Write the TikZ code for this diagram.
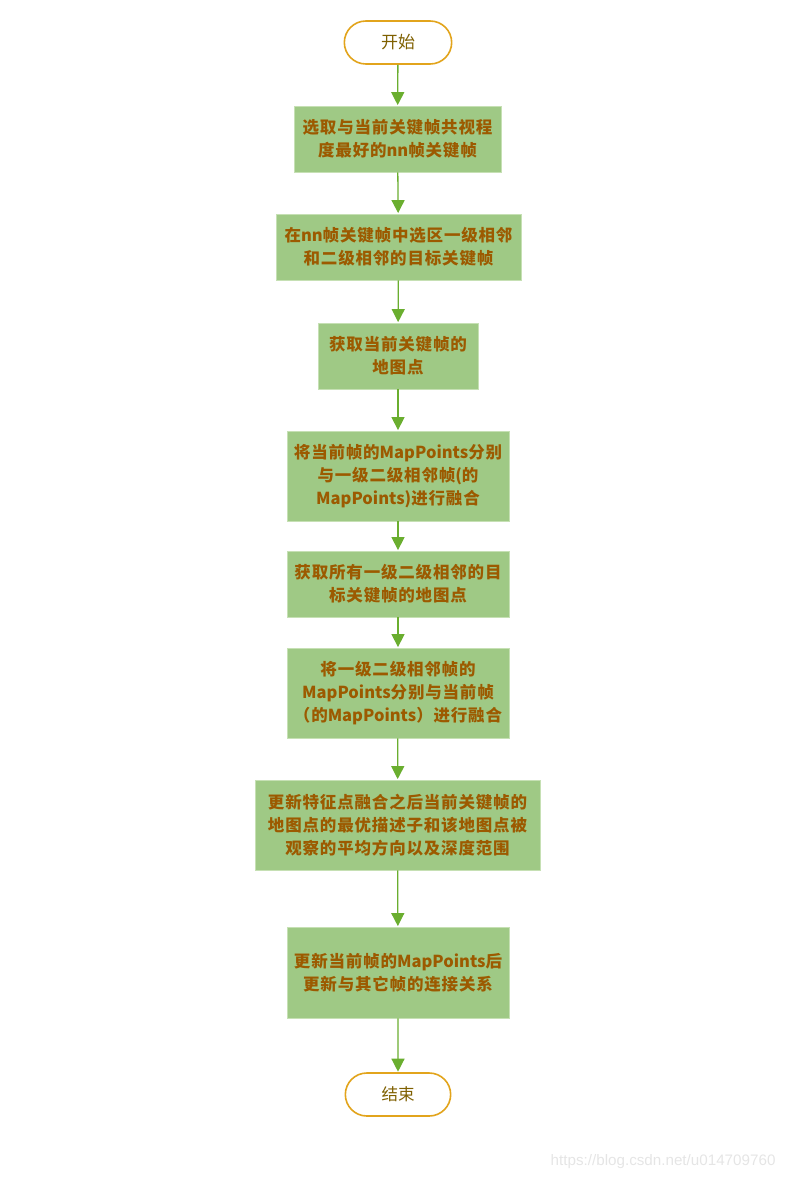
\documentclass[tikz,border=0pt]{standalone}
\usepackage{fontspec}
\setmainfont{Noto Sans CJK SC}
\setsansfont{Liberation Sans}
\usepackage{xcolor}
\usetikzlibrary{shapes.misc, arrows.meta, positioning}

\definecolor{boxgreen}{HTML}{9FC985}
\definecolor{boxedge}{HTML}{C6E0B4}
\definecolor{flowgreen}{HTML}{6AAE2F}
\definecolor{termedge}{HTML}{E2A41C}
\definecolor{textbrown}{HTML}{9C5A00}
\definecolor{termtext}{HTML}{7F6000}

% latin words without the extra letter spacing
\newcommand{\lat}[1]{{\addfontfeature{LetterSpace=0}#1}}

\begin{document}
\begin{tikzpicture}[x=1pt, y=-1pt]
\tikzstyle{terminal} = [rounded rectangle, minimum width=114pt, minimum height=43pt, draw=termedge, line width=1.6pt, fill=white, text=termtext, font=\fontsize{17}{20}\selectfont]
\tikzstyle{process} = [rectangle, align=center, draw=boxedge, line width=0.8pt, fill=boxgreen, text=textbrown, font=\fontsize{16.5}{23}\selectfont\bfseries\addfontfeature{LetterSpace=5}, inner sep=0pt]
\tikzstyle{arrow} = [draw=flowgreen, line width=1.3pt, -{Triangle[width=13pt,length=13pt]}, shorten >=0.5pt]

\useasboundingbox (0,0) rectangle (789,1180);

% Terminals
\node (start) [terminal] at (398,42.5) {开始};
\node (finish) [terminal, minimum width=112pt, font=\fontsize{16.5}{20}\selectfont\addfontfeature{FakeBold=-0.2}] at (398,1094.5) {结束};

% Steps
\node (select) [process, minimum width=207pt, minimum height=66pt] at (397.5,139) {选取与当前关键帧共视程\\度最好的\lat{nn}帧关键帧};
\node (neighbors) [process, minimum width=245pt, minimum height=66pt] at (398.5,247) {在\lat{nn}帧关键帧中选区一级相邻\\和二级相邻的目标关键帧};
\node (getpts) [process, minimum width=160pt, minimum height=66pt] at (398,356) {获取当前关键帧的\\地图点};
\node (fuseA) [process, minimum width=222pt, minimum height=90pt] at (398,476) {将当前帧的\lat{MapPoints}分别\\与一级二级相邻帧\lat{(}的\\\lat{MapPoints)}进行融合};
\node (getnb) [process, minimum width=222pt, minimum height=66pt] at (398,584) {获取所有一级二级相邻的目\\标关键帧的地图点};
\node (fuseB) [process, minimum width=222pt, minimum height=90pt] at (398,693) {将一级二级相邻帧的\\\lat{MapPoints}分别与当前帧\\（的\lat{MapPoints}）进行融合};
\node (update) [process, minimum width=285pt, minimum height=90pt] at (397.5,825) {更新特征点融合之后当前关键帧的\\地图点的最优描述子和该地图点被\\观察的平均方向以及深度范围};
\node (links) [process, minimum width=222pt, minimum height=91pt] at (398,972.5) {更新当前帧的\lat{MapPoints}后\\更新与其它帧的连接关系};

% Watermark
\node (mark) [anchor=east, text=black!10, font=\fontsize{15.2}{16}\sffamily] at (779,1162) {https://blog.csdn.net/u014709760};

% Arrows
\draw [arrow] (start) -- (select);
\draw [arrow] (select) -- (neighbors);
\draw [arrow] (neighbors) -- (getpts);
\draw [arrow] (getpts) -- (fuseA);
\draw [arrow] (fuseA) -- (getnb);
\draw [arrow] (getnb) -- (fuseB);
\draw [arrow] (fuseB) -- (update);
\draw [arrow] (update) -- (links);
\draw [arrow] (links) -- (finish);
\end{tikzpicture}
\end{document}
